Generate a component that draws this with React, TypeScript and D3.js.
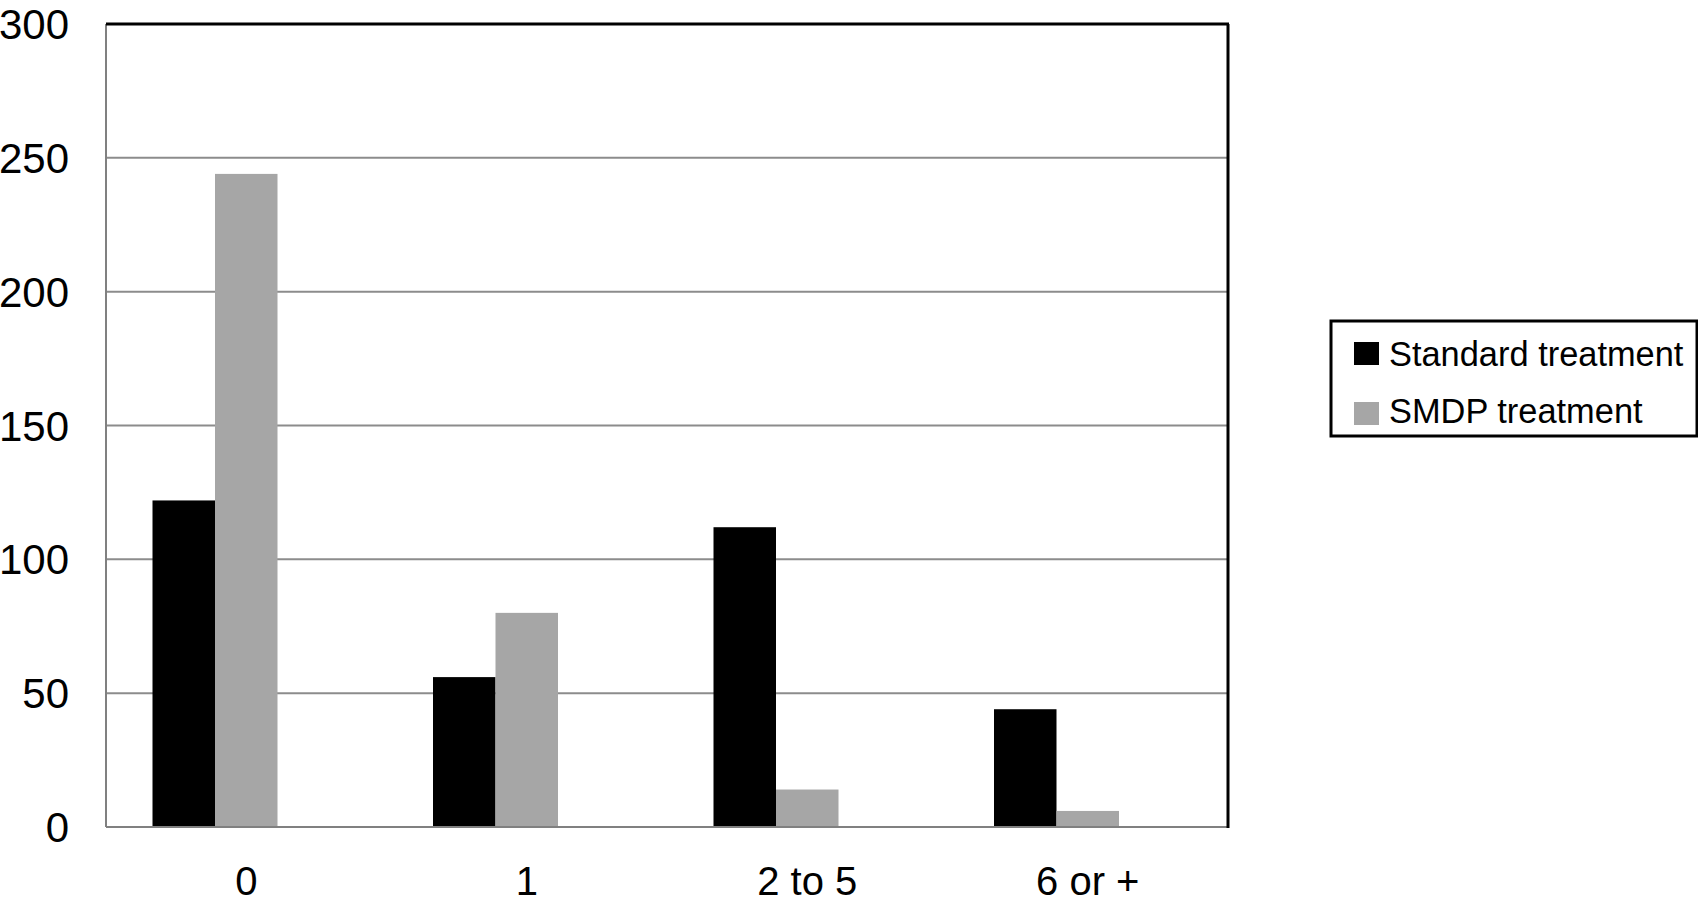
import React from 'react';
import * as d3 from 'd3';

const categories = ['0', '1', '2 to 5', '6 or +'];
const seriesNames = ['Standard treatment', 'SMDP treatment'];
const standardValues = [122, 56, 112, 44];
const smdpValues = [244, 80, 14, 6];
const yTicks = [0, 50, 100, 150, 200, 250, 300];

const colors = ['#000000', '#a6a6a6'];
const font = '"Liberation Sans", Arial, Helvetica, sans-serif';

const App = () => {
  const width = 1698;
  const height = 904;
  const margin = { top: 24, right: 470, bottom: 77, left: 106 };
  const plotRight = width - margin.right;
  const plotBottom = height - margin.bottom;

  const yScale = d3.scaleLinear().domain([0, 300]).range([plotBottom, margin.top]);

  const xScale = d3.scaleBand()
    .domain(categories)
    .range([margin.left, plotRight])
    .padding(0);

  // Excel style: three slots per group, the third one left empty
  const slotScale = d3.scaleBand()
    .domain([...seriesNames, ''])
    .range([0, xScale.bandwidth()])
    .paddingInner(0)
    .paddingOuter(0.744);

  const seriesValues = [standardValues, smdpValues];

  return (
    <svg width={width} height={height} style={{ position: 'absolute', left: 0, top: 0, background: '#fff' }}>
      {/* gridlines */}
      {yTicks.filter(t => t > 0 && t < 300).map(t => (
        <line key={t} x1={margin.left} x2={plotRight} y1={yScale(t)} y2={yScale(t)} stroke="#8c8c8c" strokeWidth={2} />
      ))}

      {/* bars */}
      {seriesNames.map((name, si) => (
        <g key={name}>
          {categories.map((c, ci) => (
            <rect
              key={c}
              x={(xScale(c) || 0) + (slotScale(name) || 0)}
              y={yScale(seriesValues[si][ci])}
              width={slotScale.bandwidth()}
              height={plotBottom - yScale(seriesValues[si][ci])}
              fill={colors[si]}
            />
          ))}
        </g>
      ))}

      {/* frame */}
      <line x1={margin.left} x2={margin.left} y1={margin.top} y2={plotBottom} stroke="#808080" strokeWidth={2} />
      <line x1={margin.left} x2={plotRight} y1={plotBottom} y2={plotBottom} stroke="#808080" strokeWidth={2} />
      <line x1={margin.left} x2={plotRight + 1} y1={margin.top} y2={margin.top} stroke="#000" strokeWidth={3} />
      <line x1={plotRight} x2={plotRight} y1={margin.top} y2={plotBottom + 1} stroke="#000" strokeWidth={3} />

      {/* y tick labels */}
      {yTicks.map(t => (
        <text key={t} x={69} y={yScale(t)} dy="0.36em" textAnchor="end" fontFamily={font} fontSize={42} fill="#000">
          {t}
        </text>
      ))}

      {/* x tick labels */}
      {categories.map(c => (
        <text key={c} x={(xScale(c) || 0) + xScale.bandwidth() / 2} y={895} textAnchor="middle" fontFamily={font} fontSize={40} fill="#000">
          {c}
        </text>
      ))}

      {/* legend */}
      <g transform="translate(1331, 321)">
        <rect x={0} y={0} width={366} height={115} fill="#fff" stroke="#000" strokeWidth={3} />
        {seriesNames.map((name, i) => (
          <g key={name}>
            <rect x={23} y={21 + i * 60} width={25} height={23} fill={colors[i]} />
            <text x={58} y={45 + i * 57} fontFamily={font} fontSize={34.4} fill="#000">{name}</text>
          </g>
        ))}
      </g>
    </svg>
  );
};

export default App;
